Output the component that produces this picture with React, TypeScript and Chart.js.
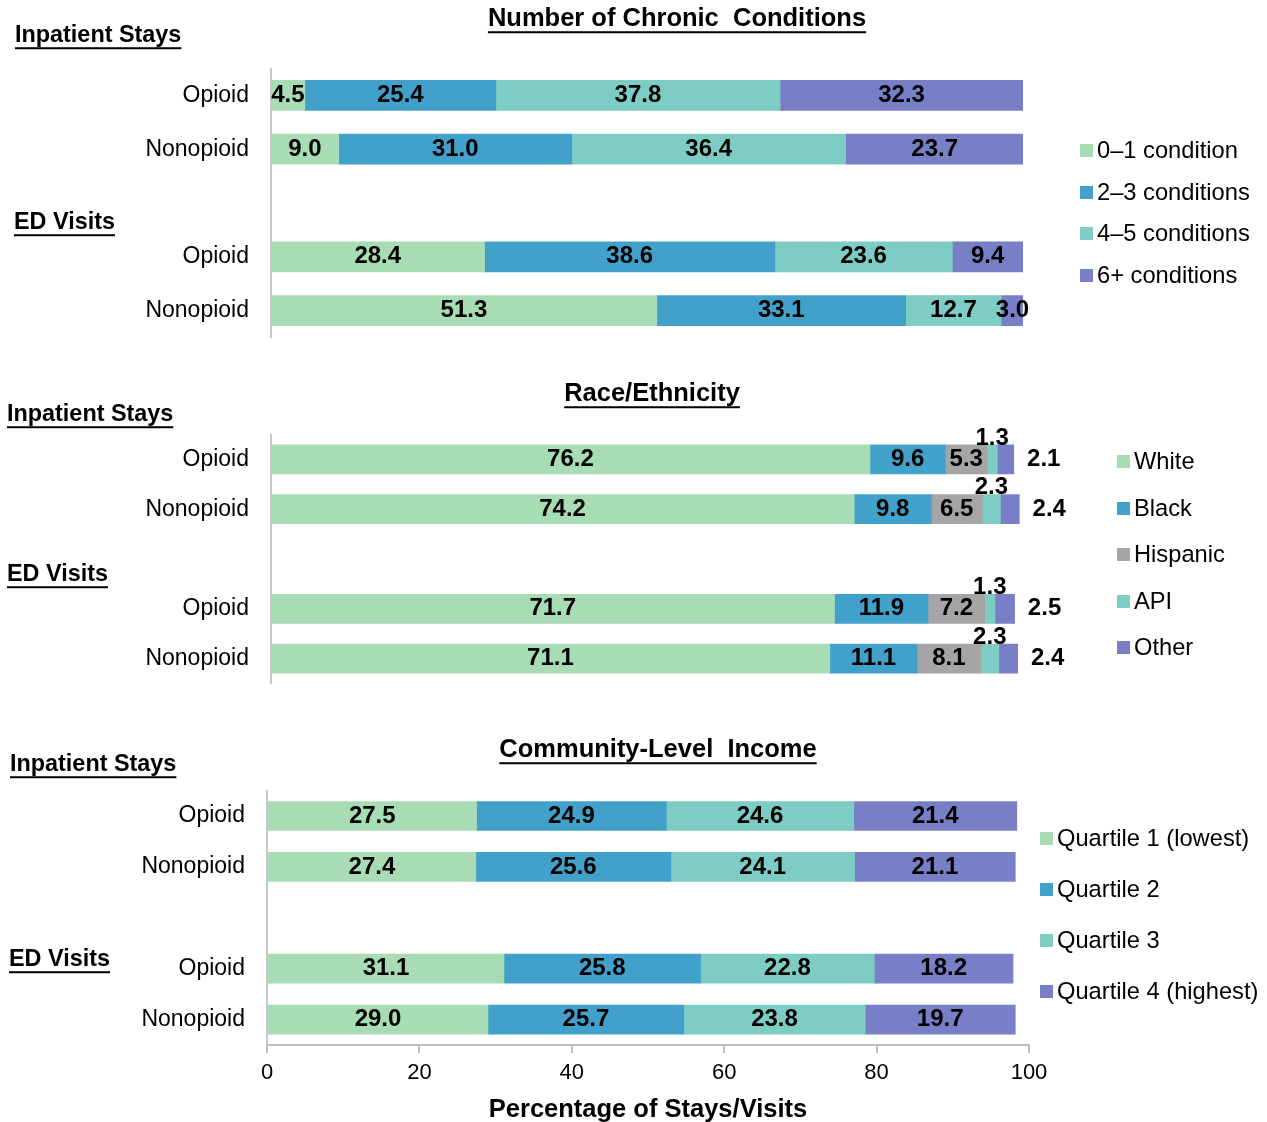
import React, { useEffect, useRef } from 'react';
import { Chart, registerables } from 'chart.js';

Chart.register(...registerables);

const ROWS = ['Opioid', 'Nonopioid', '', 'Opioid', 'Nonopioid'];

const CHRONIC_NAMES = ['0–1 condition', '2–3 conditions', '4–5 conditions', '6+ conditions'];
const CHRONIC_0_1 = [4.5, 9.0, null, 28.4, 51.3];
const CHRONIC_2_3 = [25.4, 31.0, null, 38.6, 33.1];
const CHRONIC_4_5 = [37.8, 36.4, null, 23.6, 12.7];
const CHRONIC_6P = [32.3, 23.7, null, 9.4, 3.0];

const RACE_NAMES = ['White', 'Black', 'Hispanic', 'API', 'Other'];
const RACE_WHITE = [76.2, 74.2, null, 71.7, 71.1];
const RACE_BLACK = [9.6, 9.8, null, 11.9, 11.1];
const RACE_HISPANIC = [5.3, 6.5, null, 7.2, 8.1];
const RACE_API = [1.3, 2.3, null, 1.3, 2.3];
const RACE_OTHER = [2.1, 2.4, null, 2.5, 2.4];

const INCOME_NAMES = ['Quartile 1 (lowest)', 'Quartile 2', 'Quartile 3', 'Quartile 4 (highest)'];
const INCOME_Q1 = [27.5, 27.4, null, 31.1, 29.0];
const INCOME_Q2 = [24.9, 25.6, null, 25.8, 25.7];
const INCOME_Q3 = [24.6, 24.1, null, 22.8, 23.8];
const INCOME_Q4 = [21.4, 21.1, null, 18.2, 19.7];

const X_TICKS = [0, 20, 40, 60, 80, 100];

const GREEN = '#A8DCB5';
const BLUE = '#42A1CB';
const TEAL = '#7DCDC4';
const PURPLE = '#797FC6';
const GRAY = '#A5A5A5';

const FONT = '"Liberation Sans", Arial, sans-serif';
const W = 1267;

type Panel = {
  top: number;
  height: number;
  chartTop: number;
  chartBottom: number;
  left: number;
  right: number;
  bar: number;
  title: string;
  titleX: number;
  titleY: number;
  groups: { text: string; x: number; y: number }[];
  legendX: number;
  legendYs: number[];
  names: string[];
  colors: string[];
  series: (number | null)[][];
  showX: boolean;
  race?: boolean;
};

const PANELS: Panel[] = [
  {
    top: 0, height: 350, chartTop: 68.5, chartBottom: 337.5, left: 271, right: 1023, bar: 30,
    title: 'Number of Chronic  Conditions', titleX: 677, titleY: 19,
    groups: [{ text: 'Inpatient Stays', x: 15, y: 36 }, { text: 'ED Visits', x: 14, y: 223 }],
    legendX: 1080, legendYs: [151, 193, 234, 276],
    names: CHRONIC_NAMES, colors: [GREEN, BLUE, TEAL, PURPLE],
    series: [CHRONIC_0_1, CHRONIC_2_3, CHRONIC_4_5, CHRONIC_6P], showX: false,
  },
  {
    top: 350, height: 350, chartTop: 434.5, chartBottom: 683.5, left: 271, right: 1057, bar: 29,
    title: 'Race/Ethnicity', titleX: 652, titleY: 394,
    groups: [{ text: 'Inpatient Stays', x: 7, y: 415 }, { text: 'ED Visits', x: 7, y: 575 }],
    legendX: 1117, legendYs: [462, 509, 555, 602, 648],
    names: RACE_NAMES, colors: [GREEN, BLUE, GRAY, TEAL, PURPLE],
    series: [RACE_WHITE, RACE_BLACK, RACE_HISPANIC, RACE_API, RACE_OTHER], showX: false, race: true,
  },
  {
    top: 700, height: 422, chartTop: 790.6, chartBottom: 1045, left: 267, right: 1029, bar: 29,
    title: 'Community-Level  Income', titleX: 658, titleY: 750,
    groups: [{ text: 'Inpatient Stays', x: 10, y: 765 }, { text: 'ED Visits', x: 9, y: 960 }],
    legendX: 1040, legendYs: [839, 890, 941, 992],
    names: INCOME_NAMES, colors: [GREEN, BLUE, TEAL, PURPLE],
    series: [INCOME_Q1, INCOME_Q2, INCOME_Q3, INCOME_Q4], showX: true,
  },
];

function underlined(ctx: CanvasRenderingContext2D, text: string, x: number, y: number, size: number, align: CanvasTextAlign) {
  ctx.font = `bold ${size}px ${FONT}`;
  ctx.textAlign = align;
  ctx.textBaseline = 'middle';
  ctx.fillStyle = '#000';
  ctx.fillText(text, x, y);
  const w = ctx.measureText(text).width;
  const x0 = align === 'center' ? x - w / 2 : x;
  ctx.fillRect(x0, y + size * 0.48, w, 2);
}

function PanelChart({ p }: { p: Panel }) {
  const ref = useRef<HTMLCanvasElement | null>(null);
  useEffect(() => {
    if (!ref.current) return;
    const off = p.top;
    const decor = {
      id: 'decor',
      afterDatasetsDraw(chart: any) {
        const ctx: CanvasRenderingContext2D = chart.ctx;
        ctx.save();
        ctx.font = `bold 24px ${FONT}`;
        ctx.fillStyle = '#000';
        ctx.textBaseline = 'middle';
        ctx.textAlign = 'center';
        chart.data.datasets.forEach((ds: any, di: number) => {
          const meta = chart.getDatasetMeta(di);
          meta.data.forEach((el: any, i: number) => {
            const v = ds.data[i];
            if (v == null) return;
            const { x, y, base, height } = el.getProps(['x', 'y', 'base', 'height'], true);
            const txt = Number(v).toFixed(1);
            if (p.race && di === 3) {
              ctx.fillText(txt, (x + base) / 2, y - height / 2 - 7);
            } else if (p.race && di === 4) {
              ctx.fillText(txt, x + 30, y);
            } else {
              ctx.fillText(txt, (x + base) / 2, y);
            }
          });
        });
        ctx.restore();
      },
      afterDraw(chart: any) {
        const ctx: CanvasRenderingContext2D = chart.ctx;
        ctx.save();
        underlined(ctx, p.title, p.titleX, p.titleY - off, 25.5, 'center');
        p.groups.forEach((g) => underlined(ctx, g.text, g.x, g.y - off, 23.4, 'left'));
        ctx.font = `23.7px ${FONT}`;
        ctx.textAlign = 'left';
        ctx.textBaseline = 'middle';
        p.names.forEach((n, i) => {
          const ly = p.legendYs[i] - off;
          ctx.fillStyle = p.colors[i];
          ctx.fillRect(p.legendX, ly - 7, 13, 13);
          ctx.fillStyle = '#000';
          ctx.fillText(n, p.legendX + 17, ly);
        });
        ctx.restore();
      },
    };
    const xHeight = p.top + p.height - p.chartBottom;
    const chart = new Chart(ref.current, {
      type: 'bar',
      data: {
        labels: ROWS,
        datasets: p.series.map((s, i) => ({
          label: p.names[i],
          data: s,
          backgroundColor: p.colors[i],
          borderWidth: 0,
          barThickness: p.bar,
        })),
      },
      options: {
        indexAxis: 'y',
        responsive: false,
        animation: false,
        layout: {
          padding: {
            left: 0,
            right: W - p.right,
            top: p.chartTop - p.top,
            bottom: 0,
          },
        },
        plugins: { legend: { display: false }, tooltip: { enabled: false }, title: { display: false } },
        scales: {
          x: {
            stacked: true,
            min: 0,
            max: 100,
            display: true,
            afterBuildTicks: (scale: any) => {
              scale.ticks = X_TICKS.map((v) => ({ value: v }));
            },
            afterFit: (scale: any) => {
              scale.height = xHeight;
              scale.paddingLeft = 0;
              scale.paddingRight = 0;
            },
            grid: { display: p.showX, drawOnChartArea: false, drawTicks: p.showX, tickLength: 8, color: '#BFBFBF', lineWidth: 2 },
            border: { display: p.showX, color: '#BFBFBF', width: 2 },
            ticks: { display: p.showX, font: { family: FONT, size: 22 }, color: '#000', padding: 7, maxRotation: 0 },
            title: {
              display: p.showX,
              text: 'Percentage of Stays/Visits',
              font: { family: FONT, size: 25.5, weight: 'bold' },
              color: '#000',
              padding: { top: 0, bottom: -3 },
            },
          },
          y: {
            stacked: true,
            afterFit: (scale: any) => {
              scale.width = p.left;
              scale.paddingTop = 0;
              scale.paddingBottom = 0;
            },
            grid: { display: false, drawTicks: false },
            border: { display: true, color: '#C8C8C8', width: 2 },
            ticks: { font: { family: FONT, size: 23 }, color: '#000', padding: 22, autoSkip: false },
          },
        },
      } as any,
      plugins: [decor],
    });
    return () => chart.destroy();
  }, [p]);
  return (
    <canvas
      ref={ref}
      width={W}
      height={p.height}
      style={{ position: 'absolute', left: 0, top: p.top, width: W, height: p.height }}
    />
  );
}

export default function App() {
  return (
    <div style={{ position: 'absolute', left: 0, top: 0, width: W, height: 1122, background: '#fff', overflow: 'hidden' }}>
      {PANELS.map((p, i) => (
        <PanelChart key={i} p={p} />
      ))}
    </div>
  );
}
